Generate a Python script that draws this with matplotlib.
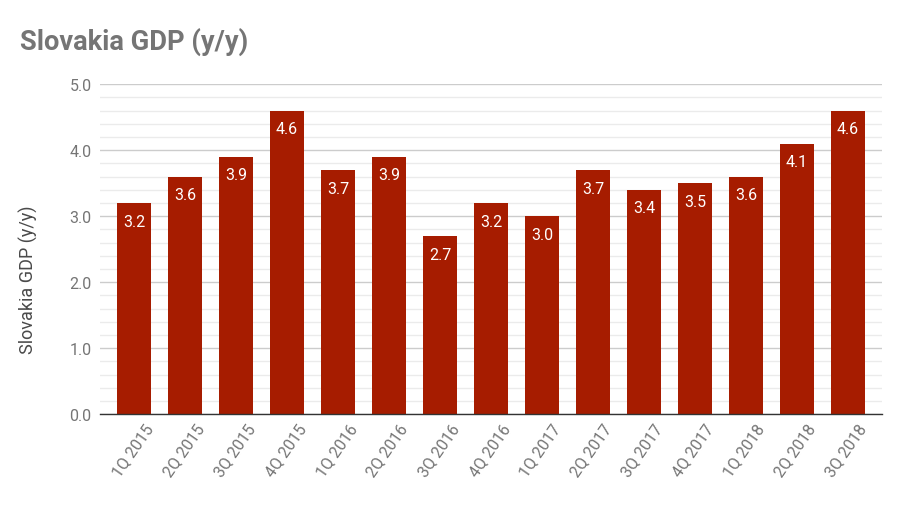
import matplotlib
matplotlib.use("Agg")
import matplotlib.pyplot as plt
import matplotlib.transforms as mtransforms
from matplotlib.ticker import MultipleLocator, FormatStrFormatter

plt.rcParams['font.family'] = ['Roboto', 'DejaVu Sans']

quarters = ['1Q 2015', '2Q 2015', '3Q 2015', '4Q 2015', '1Q 2016', '2Q 2016', '3Q 2016',
            '4Q 2016', '1Q 2017', '2Q 2017', '3Q 2017', '4Q 2017', '1Q 2018', '2Q 2018', '3Q 2018']
gdp = [3.2, 3.6, 3.9, 4.6, 3.7, 3.9, 2.7, 3.2, 3.0, 3.7, 3.4, 3.5, 3.6, 4.1, 4.6]

bar_color = '#a61c00'
text_gray = '#757575'

fig = plt.figure(figsize=(9, 5.1), dpi=100)
ax = fig.add_axes([0.111, 0.186, 0.869, 0.647])

x = list(range(len(quarters)))
bars = ax.bar(x, gdp, width=0.66, color=bar_color, zorder=3)

# value labels inside the bars
for xi, v in zip(x, gdp):
    ax.annotate(f'{v:.1f}', (xi, v), xytext=(0, -13), textcoords='offset points',
                ha='center', va='center', color='white', fontsize=11.5)

ax.set_ylim(0, 5)
ax.set_xlim(-0.67, len(quarters) - 0.33)
ax.yaxis.set_major_locator(MultipleLocator(1.0))
ax.yaxis.set_minor_locator(MultipleLocator(0.2))
ax.yaxis.set_major_formatter(FormatStrFormatter('%.1f'))
ax.grid(axis='y', which='major', color='#cccccc', linewidth=1, zorder=0)
ax.grid(axis='y', which='minor', color='#ebebeb', linewidth=1, zorder=0)

for s in ['top', 'right', 'left']:
    ax.spines[s].set_visible(False)
ax.spines['bottom'].set_color('#333333')
ax.spines['bottom'].set_linewidth(1)
ax.spines['bottom'].set_zorder(4)

ax.tick_params(axis='both', which='both', length=0, colors=text_gray, labelsize=11.5)
ax.tick_params(axis='y', pad=6)
ax.set_xticks(x)
ax.set_xticklabels(quarters, rotation=55, ha='right', rotation_mode='anchor')
ax.tick_params(axis='x', pad=5)
shift = mtransforms.ScaledTranslation(7 / 72, 0, fig.dpi_scale_trans)
for lbl in ax.get_xticklabels():
    lbl.set_transform(lbl.get_transform() + shift)

ax.set_ylabel('Slovakia GDP (y/y)', color='#4a4a4a', fontsize=13)
ax.yaxis.set_label_coords(-0.079, 0.41)

fig.text(0.022, 0.917, 'Slovakia GDP (y/y)', fontsize=19.6, fontweight='bold',
         color=text_gray, va='center', ha='left')

fig.savefig('out.png', dpi=100, facecolor='white')
